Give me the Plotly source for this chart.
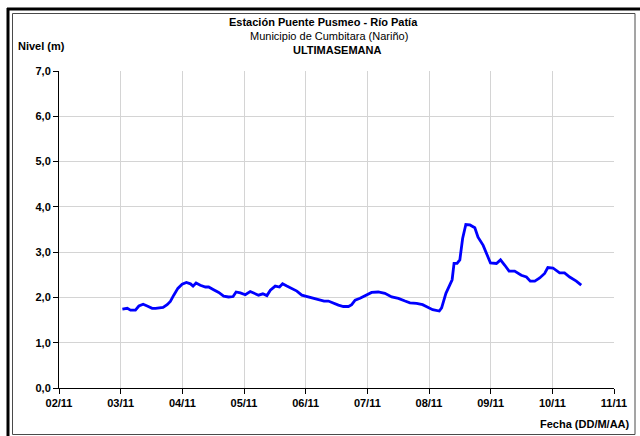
import plotly.graph_objects as go

# ---- data ----
times = [
    "2011-11-03 00:40", "2011-11-03 02:35", "2011-11-03 03:50", "2011-11-03 05:45",
    "2011-11-03 07:05", "2011-11-03 08:45", "2011-11-03 10:20", "2011-11-03 12:15",
    "2011-11-03 13:35", "2011-11-03 15:15", "2011-11-03 16:30", "2011-11-03 18:05",
    "2011-11-03 19:20", "2011-11-03 20:40", "2011-11-03 22:15", "2011-11-03 23:55",
    "2011-11-04 01:35", "2011-11-04 03:10", "2011-11-04 04:10", "2011-11-04 05:20",
    "2011-11-04 07:00", "2011-11-04 09:00", "2011-11-04 10:15", "2011-11-04 12:10",
    "2011-11-04 14:10", "2011-11-04 16:05", "2011-11-04 18:00", "2011-11-04 19:45",
    "2011-11-04 20:55", "2011-11-04 22:35", "2011-11-05 00:30", "2011-11-05 02:25",
    "2011-11-05 04:00", "2011-11-05 05:40", "2011-11-05 07:20", "2011-11-05 08:55",
    "2011-11-05 10:15", "2011-11-05 12:10", "2011-11-05 13:50", "2011-11-05 15:00",
    "2011-11-05 16:40", "2011-11-05 18:40", "2011-11-05 20:35", "2011-11-05 22:30",
    "2011-11-06 00:30", "2011-11-06 02:25", "2011-11-06 04:20", "2011-11-06 05:55",
    "2011-11-06 07:10", "2011-11-06 08:50", "2011-11-06 10:50", "2011-11-06 12:45",
    "2011-11-06 14:40", "2011-11-06 16:40", "2011-11-06 17:55", "2011-11-06 19:15",
    "2011-11-06 21:10", "2011-11-06 23:05", "2011-11-07 01:40", "2011-11-07 04:15",
    "2011-11-07 06:50", "2011-11-07 09:30", "2011-11-07 12:05", "2011-11-07 14:40",
    "2011-11-07 16:35", "2011-11-07 19:10", "2011-11-07 21:30", "2011-11-07 23:20",
    "2011-11-08 01:25", "2011-11-08 04:00", "2011-11-08 04:55", "2011-11-08 06:35",
    "2011-11-08 09:00", "2011-11-08 09:45", "2011-11-08 10:55", "2011-11-08 12:00",
    "2011-11-08 13:05", "2011-11-08 14:20", "2011-11-08 15:55", "2011-11-08 17:50",
    "2011-11-08 19:05", "2011-11-08 21:05", "2011-11-08 22:35", "2011-11-08 23:55",
    "2011-11-09 02:15", "2011-11-09 03:50", "2011-11-09 05:30", "2011-11-09 07:10",
    "2011-11-09 09:20", "2011-11-09 11:55", "2011-11-09 13:55", "2011-11-09 15:25",
    "2011-11-09 17:10", "2011-11-09 19:05", "2011-11-09 21:00", "2011-11-09 22:15",
    "2011-11-10 00:15", "2011-11-10 02:50", "2011-11-10 04:45", "2011-11-10 06:45",
    "2011-11-10 09:20", "2011-11-10 11:15",
]
nivel = [
    1.74, 1.76, 1.72, 1.72, 1.81, 1.85, 1.81, 1.76,
    1.76, 1.78, 1.78, 1.84, 1.91, 2.05, 2.20, 2.29,
    2.33, 2.30, 2.25, 2.32, 2.27, 2.23, 2.23, 2.17,
    2.11, 2.03, 2.01, 2.02, 2.12, 2.10, 2.06, 2.13,
    2.09, 2.05, 2.08, 2.04, 2.16, 2.25, 2.23, 2.30,
    2.25, 2.20, 2.14, 2.05, 2.02, 2.00, 1.96, 1.95,
    1.92, 1.92, 1.87, 1.83, 1.80, 1.80, 1.84, 1.94,
    1.98, 2.03, 2.11, 2.12, 2.09, 2.01, 1.98, 1.92,
    1.88, 1.87, 1.84, 1.79, 1.73, 1.70, 1.77, 2.09,
    2.39, 2.75, 2.75, 2.83, 3.30, 3.61, 3.60, 3.54,
    3.33, 3.15, 2.95, 2.76, 2.75, 2.83, 2.71, 2.58,
    2.58, 2.49, 2.45, 2.36, 2.36, 2.43, 2.53, 2.66,
    2.65, 2.54, 2.54, 2.45, 2.36, 2.27,
]
x_range = ["2011-11-02", "2011-11-11"]
y_range = [0, 7]

title1 = "Estación Puente Pusmeo - Río Patía"
title2 = "Municipio de Cumbitara (Nariño)"
title3 = "ULTIMASEMANA"
y_title = "Nivel (m)"
x_title = "Fecha (DD/M/AA)"

# ---- layout geometry (pixels) ----
W, H = 640, 436
L, R, T, B = 59, 614, 71, 388


def px(x):
    return (x - L) / (R - L)


def py(y):
    return (B - y) / (B - T)


FONT = "Liberation Sans, Arial, sans-serif"

fig = go.Figure()
fig.add_trace(go.Scatter(
    x=times, y=nivel, mode="lines",
    line=dict(color="#0000FF", width=2.8),
    hoverinfo="x+y", showlegend=False,
))

fig.update_layout(
    width=W, height=H,
    margin=dict(l=L, r=W - R, t=T, b=H - B, pad=0),
    paper_bgcolor="white", plot_bgcolor="white",
    separators=",.",
    font=dict(family=FONT, size=11, color="black"),
    showlegend=False,
)

fig.update_xaxes(
    type="date", range=x_range, dtick=86400000, tick0="2011-11-02",
    tickformat="%d/%m",
    showgrid=True, gridcolor="#d4d4d4", gridwidth=1,
    showline=True, linecolor="black", linewidth=1,
    ticks="outside", ticklen=5, tickcolor="black",
    tickfont=dict(family=FONT, size=11, color="black", weight="bold"),
    zeroline=False, fixedrange=True,
)
fig.update_yaxes(
    range=y_range, dtick=1, tickformat=".1f",
    showgrid=True, gridcolor="#d4d4d4", gridwidth=1,
    showline=True, linecolor="black", linewidth=1,
    ticks="outside", ticklen=5, tickcolor="black",
    tickfont=dict(family=FONT, size=11, color="black", weight="bold"),
    zeroline=False, fixedrange=True,
)

# titles and axis labels
ann = [
    (title1, 323, 22, "bold", "center"),
    (title2, 329, 36, "normal", "center"),
    (title3, 337, 50, "bold", "center"),
]
for text, x, y, w, a in ann:
    fig.add_annotation(text=text, x=px(x), y=py(y), xref="paper", yref="paper",
                       showarrow=False, xanchor=a, yanchor="middle",
                       font=dict(family=FONT, size=11, color="black", weight=w))
fig.add_annotation(text=y_title, x=px(16), y=py(46), xref="paper", yref="paper",
                   showarrow=False, xanchor="left", yanchor="middle",
                   font=dict(family=FONT, size=11, color="black", weight="bold"))
fig.add_annotation(text=x_title, x=px(632), y=py(424), xref="paper", yref="paper",
                   showarrow=False, xanchor="right", yanchor="middle",
                   font=dict(family=FONT, size=11, color="black", weight="bold"))

# chart frame: thick black outer lines (top, left) and thin inner border
fig.add_shape(type="line", xref="paper", yref="paper",
              x0=px(7), x1=px(640), y0=py(9), y1=py(9),
              line=dict(color="black", width=3), layer="above")
fig.add_shape(type="line", xref="paper", yref="paper",
              x0=px(8), x1=px(8), y0=py(8), y1=py(436),
              line=dict(color="black", width=3), layer="above")
fig.add_shape(type="rect", xref="paper", yref="paper",
              x0=px(12.5), x1=px(635), y0=py(13.5), y1=py(434.5),
              line=dict(color="#4a4a4a", width=1), layer="above")

fig.write_html(
    "out.html",
    config={"displayModeBar": False, "staticPlot": True},
    post_script="document.body.style.margin='0';document.body.style.overflow='hidden';",
)
